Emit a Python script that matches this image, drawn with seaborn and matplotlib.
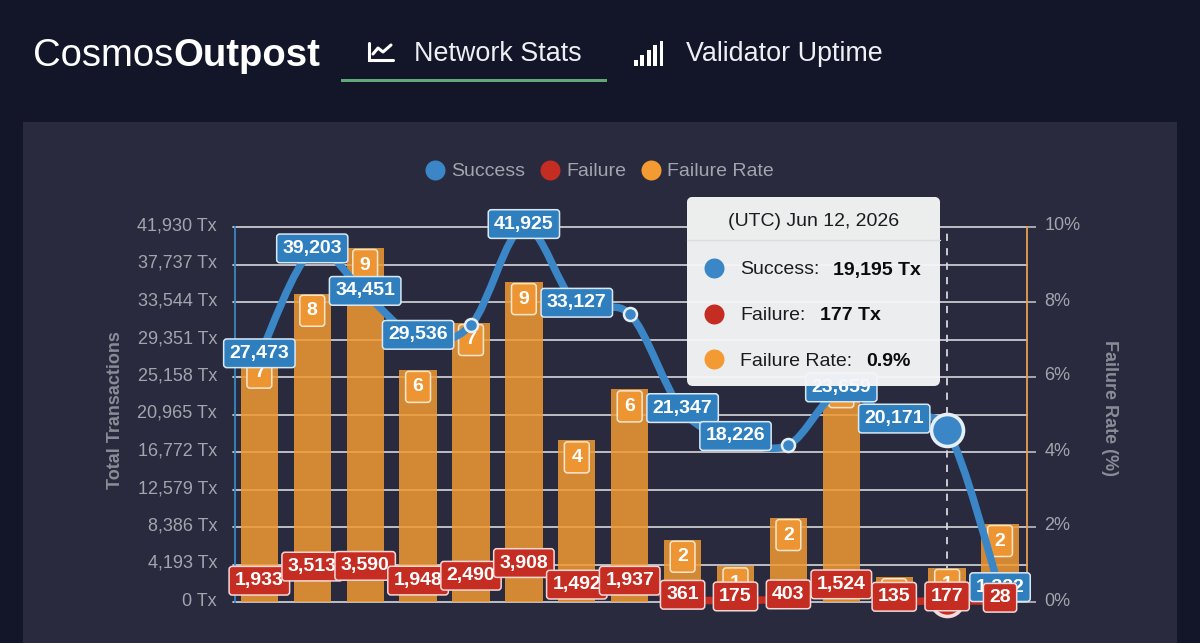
import numpy as np
import pandas as pd
import seaborn as sns
import matplotlib.pyplot as plt
from matplotlib.patches import FancyBboxPatch, PathPatch, Rectangle
from matplotlib.path import Path
from matplotlib.transforms import ScaledTranslation

# values
dates = ["May 30", "May 31", "Jun 01", "Jun 02", "Jun 03", "Jun 04", "Jun 05", "Jun 06",
         "Jun 07", "Jun 08", "Jun 09", "Jun 10", "Jun 11", "Jun 12", "Jun 13"]
success = [27473, 39203, 34451, 29536, 30970, 41925, 33127, 32200,
           21347, 18226, 17560, 23659, 20171, 19195, 1322]
failure = [1933, 3513, 3590, 1948, 2490, 3908, 1492, 1937,
           361, 175, 403, 1524, 135, 177, 28]
failure_rate = [6.57, 8.22, 9.44, 6.19, 7.44, 8.53, 4.31, 5.67,
                1.66, 0.95, 2.24, 6.05, 0.66, 0.91, 2.08]
rate_labels = ["7", "8", "9", "6", "7", "9", "4", "6", "2", "1", "2", "6", "1", "1", "2"]
# the chart drops the labels that collide
success_hidden = [4, 7, 10, 13]
highlight = 13

tx_ticks = [0, 4193, 8386, 12579, 16772, 20965, 25158, 29351, 33544, 37737, 41930]
tx_ticklabels = ["0 Tx", "4,193 Tx", "8,386 Tx", "12,579 Tx", "16,772 Tx", "20,965 Tx",
                 "25,158 Tx", "29,351 Tx", "33,544 Tx", "37,737 Tx", "41,930 Tx"]
rate_ticks = [0, 2, 4, 6, 8, 10]
rate_ticklabels = ["0%", "2%", "4%", "6%", "8%", "10%"]

BLUE = "#3a86c6"
BLUE_BOX = "#2f7fbe"
RED = "#c52c22"
ORANGE = "#f39a33"
GREY = "#a3a4ae"
PAGE = "#131629"
PANEL = "#292a3d"

sns.set_style("dark")
plt.rcParams["font.family"] = ["Liberation Sans", "DejaVu Sans"]

W, H = 1200, 643
fig = plt.figure(figsize=(12, 6.43), dpi=100, facecolor=PAGE)


def pixel_axes(zorder):
    a = fig.add_axes([0, 0, 1, 1], zorder=zorder)
    a.set_xlim(0, W)
    a.set_ylim(H, 0)
    a.axis("off")
    a.patch.set_alpha(0)
    return a


def px(v):
    return v * 0.72


# background and header
bg = pixel_axes(-1)
bg.add_patch(Rectangle((23, 122), 1154, 521, fc=PANEL, ec="none"))
bg.text(33, 66, "Cosmos", color="white", fontsize=27.5, va="baseline")
bg.text(173, 66, "Outpost", color="white", fontsize=27.5, fontweight="bold", va="baseline")
bg.text(414, 61, "Network Stats", color="#eef0f4", fontsize=19.4, va="baseline")
bg.text(686, 61, "Validator Uptime", color="#eef0f4", fontsize=19.4, va="baseline")
bg.add_patch(Rectangle((341, 79), 266, 3, fc="#62a877", ec="none"))
# tab icons
bg.plot([369, 369, 393], [43, 60, 60], color="white", lw=2.2, solid_joinstyle="miter")
bg.plot([373, 378, 383, 391], [54, 48, 52, 45], color="white", lw=2.2)
for k, top in enumerate([60, 55, 50, 45, 41]):
    bg.add_patch(Rectangle((634 + k * 6.4, top), 3.8, 66 - top, fc="white", ec="none"))

# legend
for cx, tx, name, col in [(435, 451, "Success", BLUE), (550, 566, "Failure", RED),
                          (651, 667, "Failure Rate", ORANGE)]:
    bg.scatter([cx], [170], s=px(20) ** 2, color=col, linewidths=0)
    bg.text(tx, 172, name, color=GREY, fontsize=14, va="center")

# chart axes, bars sit on the rate axis so that the lines go above them
left, right, top_y, bottom_y = 232.9, 1026.5, 227, 602
ax_rate = fig.add_axes([left / W, 1 - bottom_y / H, (right - left) / W, (bottom_y - top_y) / H])
ax_rate.patch.set_alpha(0)

df = pd.DataFrame({"date": dates, "rate": failure_rate})
sns.barplot(data=df, x="date", y="rate", color="#f09a33", saturation=1, alpha=0.86,
            width=0.705, ax=ax_rate, zorder=2, edgecolor="none", linewidth=0)
ax_rate.set_xlim(-0.5, 14.5)
ax_rate.set_ylim(0, 10)
ax_rate.set_xlabel("")
ax_rate.set_ylabel("")
ax_rate.set_xticks([])
for g in np.arange(0, 10.5, 1):
    ax_rate.axhline(g, color="#c9c9cf", lw=1.3, zorder=1, clip_on=False)
ax_rate.axvline(highlight, color="#d8d8de", lw=1.3, ls=(0, (4, 4)), zorder=1)
for s in ["top", "left", "bottom"]:
    ax_rate.spines[s].set_visible(False)
ax_rate.spines["right"].set_color("#e8a050")
ax_rate.spines["right"].set_linewidth(1.3)

ax_tx = ax_rate.twinx()
ax_tx.patch.set_alpha(0)
ax_tx.set_ylim(0, 41930)
ax_tx.yaxis.tick_left()
ax_tx.yaxis.set_label_position("left")
ax_tx.set_yticks(tx_ticks)
ax_tx.set_yticklabels(tx_ticklabels)
ax_tx.tick_params(axis="y", length=0, labelcolor=GREY, labelsize=13, pad=px(17.7))
ax_tx.set_ylabel("Total Transactions", color="#8b8c97", fontsize=13, fontweight="bold")
ax_tx.yaxis.set_label_coords(-0.137, 0.512)
for s in ["top", "right", "bottom"]:
    ax_tx.spines[s].set_visible(False)
ax_tx.spines["left"].set_position(("axes", 0.0023))
ax_tx.spines["left"].set_color(BLUE)
ax_tx.spines["left"].set_linewidth(1.3)

# twinx moves the ticks of the first axes back to the left, so this comes after it
ax_rate.yaxis.tick_right()
ax_rate.set_yticks(rate_ticks)
ax_rate.set_yticklabels(rate_ticklabels)
ax_rate.tick_params(axis="y", length=px(9), width=1.1, color="#c9c9cf", labelcolor=GREY,
                    labelsize=13, pad=px(9))
ax_rate.yaxis.set_label_position("right")
ax_rate.set_ylabel("Failure Rate (%)", color="#8b8c97", fontsize=13, fontweight="bold",
                   rotation=270, va="center")
ax_rate.yaxis.set_label_coords(1.105, 0.517)

# tick texts sit a little above their gridlines
nudge = ScaledTranslation(0, 3 / 100, fig.dpi_scale_trans)
for lbl in ax_tx.get_yticklabels() + ax_rate.get_yticklabels():
    lbl.set_transform(lbl.get_transform() + nudge)


def smooth_line(ax, values, color, zorder):
    # bezier through the data points, as the web chart draws it
    y = np.asarray(values, dtype=float)
    x = np.arange(len(y), dtype=float)
    pts = np.column_stack([x, y])
    prev_p = np.vstack([pts[0], pts[:-1]])
    next_p = np.vstack([pts[1:], pts[-1]])
    tang = (next_p - prev_p) / 6
    verts = [pts[0]]
    codes = [Path.MOVETO]
    for i in range(len(pts) - 1):
        verts += [pts[i] + tang[i], pts[i + 1] - tang[i + 1], pts[i + 1]]
        codes += [Path.CURVE4] * 3
    ax.add_patch(PathPatch(Path(verts, codes), fill=False, ec=color, lw=px(7.5),
                           capstyle="round", zorder=zorder, clip_on=False))


smooth_line(ax_tx, success, BLUE, 3)
smooth_line(ax_tx, failure, RED, 3.1)

xs = np.arange(len(dates))
sns.scatterplot(x=xs, y=success, s=px(13) ** 2, color=BLUE, edgecolor="#e6eef6", linewidth=1.8,
                ax=ax_tx, zorder=4, clip_on=False, legend=False)
ax_tx.scatter([highlight], [failure[highlight]], s=px(32) ** 2, color=RED, edgecolor="#f3dcdc",
              linewidth=2.6, zorder=4.5, clip_on=False)
ax_tx.scatter([highlight], [success[highlight]], s=px(32) ** 2, color=BLUE, edgecolor="#e6eef6",
              linewidth=2.6, zorder=4.5, clip_on=False)
ax_tx.set_xlim(-0.5, 14.5)


def value_label(ax, x, y, text, fill, edge, dy, zorder, pad=0.3):
    ax.annotate(text, xy=(x, y), xytext=(0, px(dy)), textcoords="offset points",
                ha="center", va="center", color="white", fontsize=14, fontweight="bold",
                zorder=zorder, annotation_clip=False,
                bbox=dict(boxstyle=f"round,pad={pad},rounding_size=0.16", fc=fill, ec=edge, lw=1.1))


for i, lab in enumerate(rate_labels):
    value_label(ax_rate, i, failure_rate[i], lab, "#ee9533", "#f8e6cf", -17, 5, pad=0.36)
for i, v in enumerate(success):
    if i not in success_hidden:
        value_label(ax_tx, i, v, f"{v:,}", BLUE_BOX, "#d9e8f5", 3, 6 + i * 0.01)
for i, v in enumerate(failure):
    value_label(ax_tx, i, v, f"{v:,}", RED, "#f4d8d6", 4, 7 + i * 0.01)

# tooltip
tip = pixel_axes(10)
tip.add_patch(FancyBboxPatch((691, 201), 245, 181, boxstyle="round,pad=4,rounding_size=6",
                             fc="#f5f6f8", ec="none", alpha=0.96))
tip.add_patch(FancyBboxPatch((691, 201), 245, 36, boxstyle="round,pad=4,rounding_size=6",
                             fc="#eceded", ec="none", alpha=0.9))
tip.plot([687, 940], [240, 240], color="#dcdddf", lw=1)
tip.text(813.5, 221, "(UTC) Jun 12, 2026", ha="center", va="center", color="#1c1c20", fontsize=14)
rows = [(268, BLUE, "Success:", 740, f"{success[highlight]:,} Tx", 833),
        (313.5, RED, "Failure:", 740, f"{failure[highlight]:,} Tx", 820),
        (359, ORANGE, "Failure Rate:", 740, "0.9%", 866)]
for ry, col, name, nx, val, vx in rows:
    tip.scatter([714], [ry], s=px(20) ** 2, color=col, linewidths=0)
    tip.text(nx, ry + 2, name, va="center", color="#1c1c20", fontsize=14)
    tip.text(vx, ry + 2, val, va="center", color="#0c0c10", fontsize=14, fontweight="bold")

fig.savefig("out.png", dpi=100, facecolor=PAGE)
